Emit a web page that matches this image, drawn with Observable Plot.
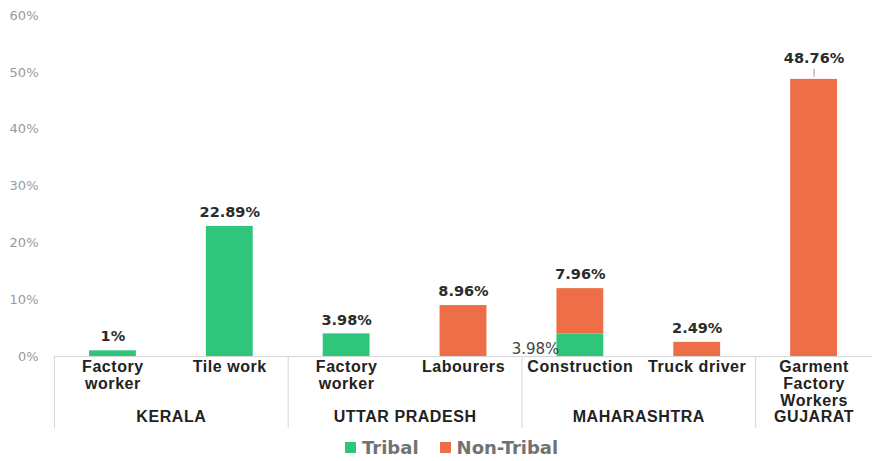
<!DOCTYPE html>
<html>
<head>
<meta charset="utf-8">
<script src="https://cdn.jsdelivr.net/npm/d3@7"></script>
<script src="https://cdn.jsdelivr.net/npm/@observablehq/plot@0.6"></script>
<style>
  html, body { margin: 0; padding: 0; background: #fff; }
  #chart svg { display: block; }
  #chart svg .spaced text { letter-spacing: 0.55px; }
  .legend { display: flex; align-items: center; height: 27px; padding-left: 345px;
    font-family: "DejaVu Sans", sans-serif; font-weight: bold; font-size: 18px; color: #727272; }
  .legend .item { display: flex; align-items: center; margin-right: 21px; }
  .legend .sw { width: 11px; height: 11px; margin-right: 6px; }
</style>
</head>
<body>
<div id="chart"></div>
<script>
// ---- data ----
const categories = ["Factory\nworker", "Tile work", "Factory\nworker", "Labourers", "Construction", "Truck driver", "Garment\nFactory\nWorkers"];
const states = ["KERALA", "KERALA", "UTTAR PRADESH", "UTTAR PRADESH", "MAHARASHTRA", "MAHARASHTRA", "GUJARAT"];
const tribal = [1, 22.89, 3.98, 0, 3.98, 0, 0];
const nonTribal = [0, 0, 0, 8.96, 7.96, 2.49, 48.76];
const yTicks = [0, 10, 20, 30, 40, 50, 60];
const seriesNames = ["Tribal", "Non-Tribal"];
const seriesColors = ["#2fc67c", "#ee6e47"];

// ---- derived tables ----
const rows = [];
categories.forEach((c, i) => {
  rows.push({i, series: "Tribal", value: tribal[i]});
  rows.push({i, series: "Non-Tribal", value: nonTribal[i]});
});
const cats = categories.map((c, i) => ({
  i, label: c, state: states[i],
  total: tribal[i] + nonTribal[i],
  top: nonTribal[i] > 0 ? nonTribal[i] : tribal[i],
  both: tribal[i] > 0 && nonTribal[i] > 0
}));
const maxTotal = d3.max(cats, d => d.total);
const groups = [];
states.forEach((s, i) => {
  const g = groups.find(g => g.state === s);
  if (g) g.end = i + 1; else groups.push({state: s, start: i, end: i + 1});
});
const fmt = v => `${v}%`;

const boldSans = "'Liberation Sans', Arial, sans-serif";

const chart = Plot.plot({
  width: 872,
  height: 434,
  marginLeft: 54,
  marginRight: 0,
  marginTop: 15,
  marginBottom: 78,
  style: {fontFamily: "'DejaVu Sans', sans-serif", background: "#fff", overflow: "visible"},
  x: {type: "linear", domain: [0, categories.length], axis: null},
  y: {domain: [0, 60], ticks: yTicks, tickFormat: fmt, label: null},
  color: {domain: seriesNames, range: seriesColors},
  marks: [
    Plot.axisY({ticks: yTicks, tickSize: 0, tickPadding: 16, tickFormat: fmt, fill: "#9a9a9a", fontSize: 13, label: null}),
    Plot.rectY(rows, Plot.stackY({x1: "i", x2: d => d.i + 1, y: "value", fill: "series", order: seriesNames, insetLeft: 35, insetRight: 35})),
    Plot.ruleY([0], {stroke: "#d6d6d6", strokeWidth: 1}),
    Plot.ruleX(groups, {x: "start", y1: 0, y2: 0, insetTop: 0, insetBottom: -72, stroke: "#d6d6d6", strokeWidth: 1}),
    // value labels
    Plot.text(cats.filter(d => d.total !== maxTotal), {x: d => d.i + 0.5, y: "total", text: d => fmt(d.top), dy: -14, fontWeight: "bold", fontSize: 14.5, fill: "#2b2b2b"}),
    Plot.text(cats.filter(d => d.total === maxTotal), {x: d => d.i + 0.5, y: "total", text: d => fmt(d.top), dy: -21, fontWeight: "bold", fontSize: 14.5, fill: "#2b2b2b"}),
    Plot.ruleX(cats.filter(d => d.total === maxTotal), {x: d => d.i + 0.5, y1: "total", y2: "total", insetTop: -10, insetBottom: 2, stroke: "#999", strokeWidth: 1}),
    Plot.text(cats.filter(d => d.both), {x: d => d.i + 0.5, y: 0, text: d => fmt(tribal[d.i]), dx: -21, dy: -7, textAnchor: "end", fontSize: 15, fill: "#444"}),
    // category labels
    Plot.text(cats, {x: d => d.i + 0.5, y: 0, text: "label", lineAnchor: "top", dy: 3, lineHeight: 1.0625, fontWeight: "bold", fontSize: 16, fontFamily: boldSans, fill: "#222", className: "spaced"}),
    // state labels
    Plot.text(groups, {x: d => (d.start + d.end) / 2, y: 0, text: "state", lineAnchor: "top", dy: 54, fontWeight: "bold", fontSize: 16, fontFamily: boldSans, fill: "#222", className: "spaced"})
  ]
});
document.getElementById("chart").appendChild(chart);

// legend
const legend = document.createElement("div");
legend.className = "legend";
seriesNames.forEach((n, k) => {
  const it = document.createElement("div");
  it.className = "item";
  const sw = document.createElement("div");
  sw.className = "sw";
  sw.style.background = seriesColors[k];
  const t = document.createElement("span");
  t.textContent = n;
  it.appendChild(sw); it.appendChild(t);
  legend.appendChild(it);
});
document.getElementById("chart").appendChild(legend);
</script>
</body>
</html>
